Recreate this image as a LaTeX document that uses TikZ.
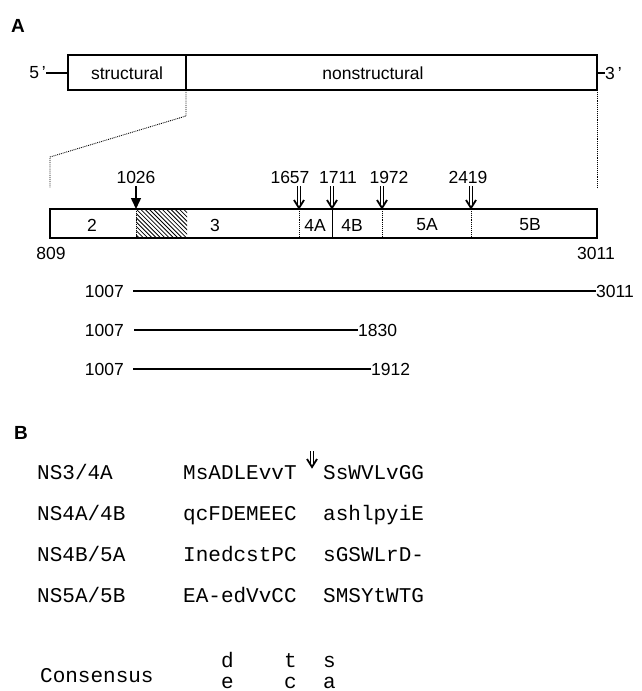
\documentclass[tikz,border=0pt]{standalone}
\usepackage{fontspec}
\setmainfont{Liberation Sans}
\setmonofont{Liberation Mono}
\usetikzlibrary{arrows.meta}
\newcommand{\mydblarrow}[2]{%
  \draw[dblshaft] (#1) -- ([yshift=3pt]#2);
  \draw[dblhead] ([xshift=-5pt,yshift=8pt]#2) -- (#2) -- ([xshift=5pt,yshift=8pt]#2);}
\begin{document}
\begin{tikzpicture}[x=1pt,y=-1pt,
  lbl/.style={font=\fontsize{17.5}{20}\selectfont, inner sep=0pt},
  panel/.style={font=\fontsize{19}{21}\selectfont\bfseries, inner sep=0pt},
  mono/.style={font=\fontsize{21}{24}\selectfont\ttfamily, inner sep=0pt, anchor=base west},
  boxline/.style={line width=1.6pt},
  thickbox/.style={line width=2.3pt},
  divider/.style={line width=0.9pt, densely dotted},
  soliddiv/.style={line width=1pt},
  zoomln/.style={line width=0.9pt, densely dotted},
  singlearr/.style={line width=1.5pt, -{Triangle[length=11pt,width=10pt]}},
  dblshaft/.style={line width=1.3pt, double, double distance=1.6pt},
  dblhead/.style={line width=1.8pt, line join=miter, line cap=butt},
  fragline/.style={line width=1.4pt},
]
\useasboundingbox (0,0) rectangle (641,691);
\clip (0,0) rectangle (641,691);

% panel labels
\node[panel] (pA) at (18,26) {A};
\node[panel] (pB) at (21,433) {B};

% top genome box
\draw[boxline] (68,55) rectangle (597,90);
\draw[line width=1.2pt] (186,55) -- (186,90);
\node[lbl] (struct) at (127,73) {structural};
\node[lbl] (nonstruct) at (373,73) {nonstructural};
\coordinate (boxL) at (68,73);
\coordinate (boxR) at (597,73);
\node[lbl, anchor=east] (five) at (46,73) {5\,'};
\node[lbl, anchor=west] (three) at (605,73) {3\,'};
\draw[line width=1.3pt] (five.east) -- (boxL);
\draw[line width=1.3pt] (three.west) -- (boxR);

% zoom lines
\draw[zoomln] (186,90) -- (186,116) -- (50,157) -- (50,188);
\draw[zoomln] (597,90) -- (597,188);

% hatched region
\begin{scope}
  \clip (136,209) rectangle (187,238);
  \foreach \i in {0,...,20} \draw[line width=0.8pt] (106+\i*4.3,209) -- ++(29,29);
\end{scope}

% bottom box
\draw[thickbox] (50,209) rectangle (597,238);
\draw[divider] (136,209) -- (136,238);
\draw[divider] (299,209) -- (299,238);
\draw[soliddiv] (332,209) -- (332,238);
\draw[divider] (382,209) -- (382,238);
\draw[divider] (471,209) -- (471,238);

\node[lbl] (s2) at (92,225) {2};
\node[lbl] (s3) at (215,225) {3};
\node[lbl] (s4A) at (315,225) {4A};
\node[lbl] (s4B) at (352,225) {4B};
\node[lbl] (s5A) at (427,225) {5A};
\node[lbl] (s5B) at (530,225) {5B};

\node[lbl] (e809) at (51,253) {809};
\node[lbl] (e3011) at (596,253) {3011};

% cleavage sites
\node[lbl] (n1026) at (136,177) {1026};
\node[lbl] (n1657) at (290,177) {1657};
\node[lbl] (n1711) at (338,177) {1711};
\node[lbl] (n1972) at (389,177) {1972};
\node[lbl] (n2419) at (468,177) {2419};
\coordinate (t1026) at (136,209);
\coordinate (t1657) at (299,208);
\coordinate (t1711) at (332,208);
\coordinate (t1972) at (382,208);
\coordinate (t2419) at (471,208);
\coordinate (u1657) at ([yshift=-3pt]n1657.south -| t1657);
\coordinate (u1711) at ([yshift=-3pt]n1711.south -| t1711);
\coordinate (u1972) at ([yshift=-3pt]n1972.south -| t1972);
\coordinate (u2419) at ([yshift=-3pt]n2419.south -| t2419);
\draw[singlearr] ([yshift=-3pt]n1026.south) -- (t1026);
\mydblarrow{u1657}{t1657}
\mydblarrow{u1711}{t1711}
\mydblarrow{u1972}{t1972}
\mydblarrow{u2419}{t2419}

% fragments
\node[lbl, anchor=east] (f1l) at (124,291) {1007};
\node[lbl, anchor=west] (f1r) at (596,291) {3011};
\node[lbl, anchor=east] (f2l) at (124,330) {1007};
\node[lbl, anchor=west] (f2r) at (358,330) {1830};
\node[lbl, anchor=east] (f3l) at (124,369) {1007};
\node[lbl, anchor=west] (f3r) at (371,369) {1912};
\draw[fragline] ([xshift=9pt]f1l.east) -- (f1r.west);
\draw[fragline] ([xshift=10pt]f2l.east) -- (f2r.west);
\draw[fragline] ([xshift=9pt]f3l.east) -- (f3r.west);

% panel B
\node[mono] (r1) at (37,479) {NS3/4A};
\node[mono] (r2) at (37,520) {NS4A/4B};
\node[mono] (r3) at (37,561) {NS4B/5A};
\node[mono] (r4) at (37,602) {NS5A/5B};
\node[mono] (r5) at (40,682) {Consensus};

\node[mono] (a1) at (183,479) {MsADLEvvT};
\node[mono] (b1) at (323,479) {SsWVLvGG};
\node[mono] (a2) at (183,520) {qcFDEMEEC};
\node[mono] (b2) at (323,520) {ashlpyiE};
\node[mono] (a3) at (183,561) {InedcstPC};
\node[mono] (b3) at (323,561) {sGSWLrD-};
\node[mono] (a4) at (183,602) {EA-edVvCC};
\node[mono] (b4) at (323,602) {SMSYtWTG};

\node[mono] (cd) at (220.8,667) {d};
\node[mono] (ct) at (283.8,667) {t};
\node[mono] (cs) at (323,667) {s};
\node[mono] (ce) at (220.8,688) {e};
\node[mono] (cc) at (283.8,688) {c};
\node[mono] (ca) at (323,688) {a};

\coordinate (bs) at (312,451);
\coordinate (be) at (312,467);
\mydblarrow{bs}{be}
\end{tikzpicture}
\end{document}
